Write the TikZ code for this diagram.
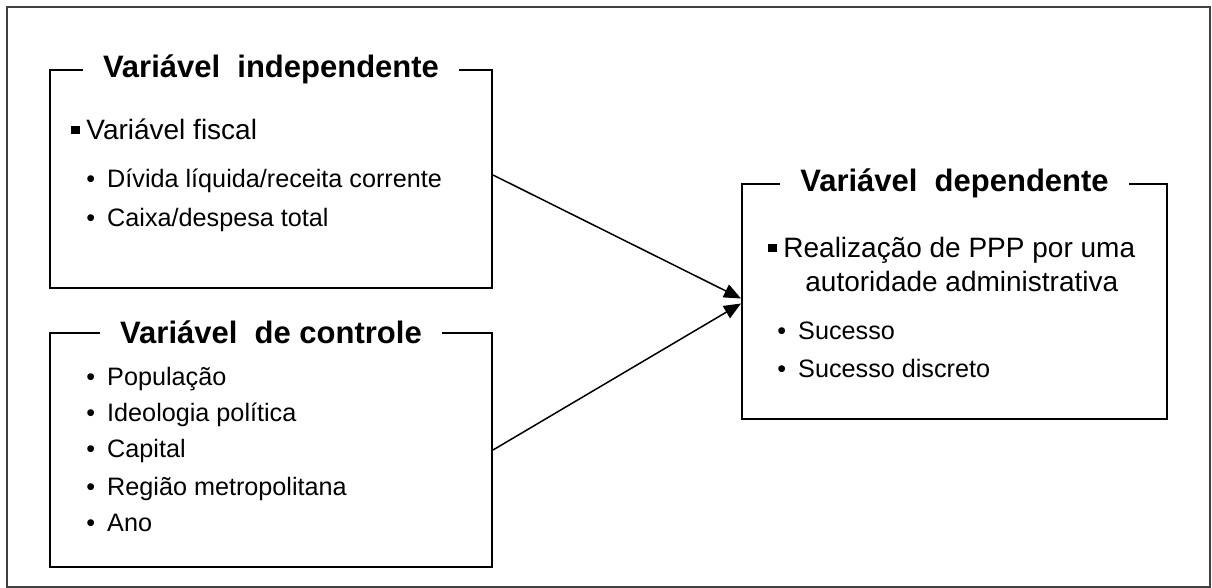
\documentclass[tikz,border=0pt]{standalone}
\usepackage{fontspec}
\setmainfont{Liberation Sans}
\usetikzlibrary{arrows.meta, positioning}

\tikzset{
  box/.style={rectangle, draw, line width=1pt},
  title/.style={fill=white, inner xsep=10pt, inner ysep=1pt, font=\bfseries\fontsize{15.5}{18}\selectfont},
  head/.style={anchor=base west, inner sep=0pt, font=\fontsize{14}{17}\selectfont},
  item/.style={anchor=base west, inner sep=0pt, font=\fontsize{12.6}{15}\selectfont},
  arr/.style={line width=0.75pt, -{Triangle[length=8.5pt, width=7pt]}}
}
\newcommand{\sqbul}{\rule[2.8pt]{4.3pt}{4.3pt}\hspace{3.2pt}}
\newcommand{\dotbul}{\textbullet\hspace{6pt}}

\begin{document}
\begin{tikzpicture}[x=0.5pt, y=-0.5pt]
    \useasboundingbox (0,0) rectangle (1212,588);
    \draw[black!75, line width=1pt] (7,7) rectangle (1210,587);

    % boxes
    \node[box, minimum width=221pt, minimum height=109pt] (indep) at (271,179) {};
    \node[box, minimum width=221pt, minimum height=117pt] (ctrl) at (271,450) {};
    \node[box, minimum width=212.5pt, minimum height=117.5pt] (dep) at (954.5,301.5) {};

    \node[title] (indept) at (indep.north) {Variável\ \ independente};
    \node[title] (ctrlt) at (ctrl.north) {Variável\ \ de controle};
    \node[title] (dept) at (dep.north) {Variável\ \ dependente};

    % independente
    \node[head] (fis) at (71,140) {\sqbul Variável fiscal};
    \node[item] (div) at (86,188) {\dotbul Dívida líquida/receita corrente};
    \node[item] (cx) at (86,227) {\dotbul Caixa/despesa total};

    % controle
    \node[item] (pop) at (86,386) {\dotbul População};
    \node[item] (ideo) at (86,422) {\dotbul Ideologia política};
    \node[item] (cap) at (86,458) {\dotbul Capital};
    \node[item] (reg) at (86,495) {\dotbul Região metropolitana};
    \node[item] (ano) at (86,531) {\dotbul Ano};

    % dependente
    \node[head] (real) at (768,258) {\sqbul Realização de PPP por uma};
    \node[head] (aut) at (805,292) {autoridade administrativa};
    \node[item] (suc) at (777,340) {\dotbul Sucesso};
    \node[item] (sucd) at (777,378) {\dotbul Sucesso discreto};

    \draw[arr] ([yshift=2pt]indep.east) -- ([yshift=1.5pt]dep.west);
    \draw[arr] (ctrl.east) -- ([yshift=-1pt]dep.west);
\end{tikzpicture}
\end{document}
